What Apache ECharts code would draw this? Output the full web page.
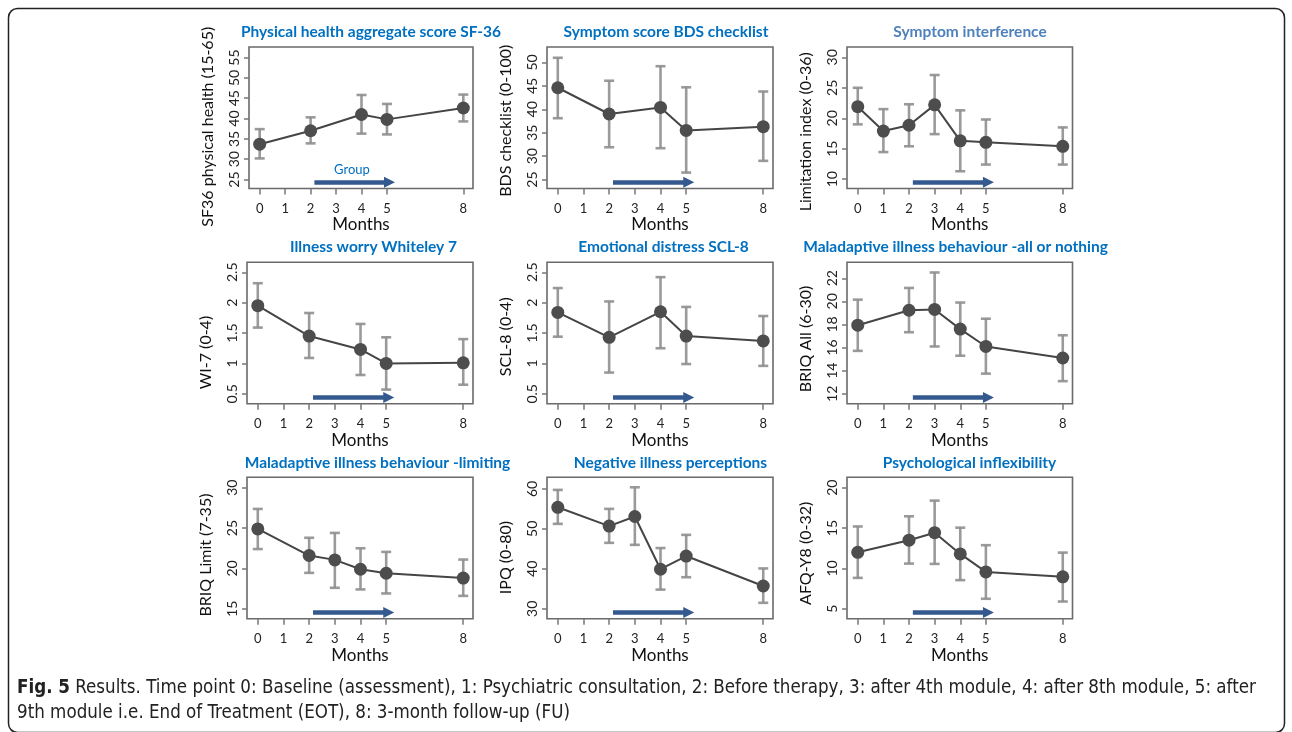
<!DOCTYPE html>
<html><head><meta charset="utf-8">
<script src="https://cdn.jsdelivr.net/npm/echarts@6/dist/echarts.min.js"></script>
<style>html,body{margin:0;padding:0;background:#fff}#c{width:1292px;height:732px}</style>
</head><body><div id="c"></div>
<script>
// ---- tick labels / categories ----
const monthTicks = [0, 1, 2, 3, 4, 5, 8];
const xName = 'Months';
const titles = [
  'Physical health aggregate score SF-36', 'Symptom score BDS checklist', 'Symptom interference',
  'Illness worry Whiteley 7', 'Emotional distress SCL-8', 'Maladaptive illness behaviour -all or nothing',
  'Maladaptive illness behaviour -limiting', 'Negative illness perceptions', 'Psychological inflexibility'
];
const yNames = [
  'SF36 physical health (15-65)', 'BDS checklist (0-100)', 'Limitation index (0-36)',
  'WI-7 (0-4)', 'SCL-8 (0-4)', 'BRIQ All (6-30)',
  'BRIQ Limit (7-35)', 'IPQ (0-80)', 'AFQ-Y8 (0-32)'
];
const yTicks1 = [25, 30, 35, 40, 45, 50, 55];
const yTicks2 = [25, 30, 35, 40, 45, 50];
const yTicks3 = [10, 15, 20, 25, 30];
const yTicks4 = [0.5, 1, 1.5, 2, 2.5];
const yTicks5 = [0.5, 1, 1.5, 2, 2.5];
const yTicks6 = [12, 14, 16, 18, 20, 22];
const yTicks7 = [15, 20, 25, 30];
const yTicks8 = [30, 40, 50, 60];
const yTicks9 = [5, 10, 15, 20];
const groupLabel = 'Group';
const arrowFrom = 2.15, arrowTo = 5.1;

// ---- series values: time points, mean, lower / upper error bar ----
const sf36T = [0, 2, 4, 5, 8];
const sf36Mean = [33.7, 37.0, 41.0, 39.8, 42.6];
const sf36Lo = [30.2, 33.9, 36.3, 36.1, 39.3];
const sf36Hi = [37.4, 40.3, 45.8, 43.6, 45.9];

const bdsT = [0, 2, 4, 5, 8];
const bdsMean = [44.6, 39.0, 40.4, 35.5, 36.3];
const bdsLo = [38.1, 31.9, 31.7, 26.5, 29.0];
const bdsHi = [51.0, 46.1, 49.2, 44.7, 43.8];

const limT = [0, 1, 2, 3, 4, 5, 8];
const limMean = [21.9, 17.9, 18.85, 22.2, 16.3, 16.05, 15.4];
const limLo = [19.0, 14.45, 15.4, 17.4, 11.3, 12.4, 12.4];
const limHi = [25.0, 21.5, 22.3, 27.1, 21.3, 19.8, 18.5];

const wiT = [0, 2, 4, 5, 8];
const wiMean = [1.95, 1.45, 1.23, 1.0, 1.01];
const wiLo = [1.59, 1.09, 0.81, 0.57, 0.65];
const wiHi = [2.32, 1.83, 1.65, 1.43, 1.40];

const sclT = [0, 2, 4, 5, 8];
const sclMean = [1.84, 1.43, 1.85, 1.45, 1.37];
const sclLo = [1.44, 0.85, 1.25, 0.99, 0.96];
const sclHi = [2.24, 2.02, 2.42, 1.93, 1.78];

const briqAllT = [0, 2, 3, 4, 5, 8];
const briqAllMean = [17.94, 19.23, 19.3, 17.6, 16.1, 15.1];
const briqAllLo = [15.72, 17.33, 16.1, 15.3, 13.75, 13.1];
const briqAllHi = [20.15, 21.16, 22.5, 19.9, 18.5, 17.07];

const briqLimT = [0, 2, 3, 4, 5, 8];
const briqLimMean = [24.9, 21.6, 21.06, 19.9, 19.4, 18.8];
const briqLimLo = [22.4, 19.45, 17.6, 17.4, 16.9, 16.6];
const briqLimHi = [27.37, 23.8, 24.4, 22.5, 22.05, 21.1];

const ipqT = [0, 2, 3, 4, 5, 8];
const ipqMean = [55.4, 50.7, 53.1, 39.9, 43.2, 35.7];
const ipqLo = [51.25, 46.5, 46.0, 34.8, 37.9, 31.5];
const ipqHi = [59.75, 55.0, 60.4, 45.2, 48.5, 40.1];

const afqT = [0, 2, 3, 4, 5, 8];
const afqMean = [12.0, 13.5, 14.43, 11.8, 9.57, 8.96];
const afqLo = [8.83, 10.6, 10.56, 8.55, 6.24, 5.9];
const afqHi = [15.2, 16.46, 18.4, 15.05, 12.88, 11.96];

const captionBold = 'Fig. 5';
const captionLine1 = ' Results. Time point 0: Baseline (assessment), 1: Psychiatric consultation, 2: Before therapy, 3: after 4th module, 4: after 8th module, 5: after';
const captionLine2 = '9th module i.e. End of Treatment (EOT), 8: 3-month follow-up (FU)';

// ---- assembly ----
const panels = [
  {t: sf36T, m: sf36Mean, lo: sf36Lo, hi: sf36Hi, ticks: yTicks1, ymin: 22.8, ymax: 57.6},
  {t: bdsT, m: bdsMean, lo: bdsLo, hi: bdsHi, ticks: yTicks2, ymin: 23.1, ymax: 53.3},
  {t: limT, m: limMean, lo: limLo, hi: limHi, ticks: yTicks3, ymin: 8.47, ymax: 31.7},
  {t: wiT, m: wiMean, lo: wiLo, hi: wiHi, ticks: yTicks4, ymin: 0.336, ymax: 2.664},
  {t: sclT, m: sclMean, lo: sclLo, hi: sclHi, ticks: yTicks5, ymin: 0.336, ymax: 2.664},
  {t: briqAllT, m: briqAllMean, lo: briqAllLo, hi: briqAllHi, ticks: yTicks6, ymin: 11.14, ymax: 23.38},
  {t: briqLimT, m: briqLimMean, lo: briqLimLo, hi: briqLimHi, ticks: yTicks7, ymin: 13.76, ymax: 31.29},
  {t: ipqT, m: ipqMean, lo: ipqLo, hi: ipqHi, ticks: yTicks8, ymin: 27.5, ymax: 62.9},
  {t: afqT, m: afqMean, lo: afqLo, hi: afqHi, ticks: yTicks9, ymin: 3.76, ymax: 21.29}
];
const gridLeft = [249, 547, 847, 247, 547, 847, 247, 547, 847];
const gridWidth = [224, 226, 225.5, 226, 226, 225.5, 226, 226, 225.5];
const rowTop = [47, 262.3, 477.3];
const gridH = 141.5;
const titleX = [366, 661, 965, 368.5, 658.5, 950.5, 372.5, 665.5, 964.5];
const titleY = [22, 237, 453];
const nameShift = [9, 3, 14, 19.5, 3.7, 6, 7, 9.5, 5.3];
const titleColors = ['#0070c0', '#0070c0', '#4f81bd', '#0070c0', '#0070c0', '#0070c0', '#0070c0', '#0070c0', '#0070c0'];
const FONT = 'Lato, "Open Sans", sans-serif';

const grid = [], xAxis = [], yAxis = [], series = [], title = [];
panels.forEach((p, i) => {
  const r = Math.floor(i / 3);
  grid.push({left: gridLeft[i], top: rowTop[r], width: gridWidth[i], height: gridH,
    show: true, borderColor: '#6a6a6a', borderWidth: 1.6, backgroundColor: 'transparent'});
  title.push({text: titles[i], left: titleX[i], top: titleY[r] - 3, textAlign: 'center',
    textStyle: {fontFamily: FONT, fontWeight: 'bold', fontSize: 15.5, color: titleColors[i]}});
  xAxis.push({type: 'value', gridIndex: i, min: -0.42, max: 8.38,
    name: xName, nameLocation: 'middle', nameGap: 28, nameMoveOverlap: false,
    nameTextStyle: {fontFamily: FONT, fontSize: 17, color: '#111'},
    axisLine: {show: false, onZero: false}, splitLine: {show: false},
    axisTick: {show: true, length: 6, customValues: monthTicks, lineStyle: {color: '#777', width: 1.5}},
    axisLabel: {customValues: monthTicks, margin: 14, fontFamily: FONT, fontSize: 13, color: '#222'}});
  yAxis.push({type: 'value', gridIndex: i, min: p.ymin, max: p.ymax,
    name: yNames[i], nameLocation: 'middle', nameGap: 33, nameMoveOverlap: false,
    nameTextStyle: {fontFamily: FONT, fontSize: 16, color: '#111', padding: [0, 2 * nameShift[i], 0, 0]},
    axisLine: {show: false, onZero: false}, splitLine: {show: false},
    axisTick: {show: true, length: 5, customValues: p.ticks, lineStyle: {color: '#777', width: 1.5}},
    axisLabel: {customValues: p.ticks, rotate: 90, margin: 8, fontFamily: FONT, fontSize: 14, color: '#222'}});
  series.push({
    type: 'custom', xAxisIndex: i, yAxisIndex: i, z: 2, silent: true,
    data: p.t.map((v, k) => [v, p.lo[k], p.hi[k]]),
    encode: {x: 0, y: [1, 2]},
    renderItem(params, api) {
      const a = api.coord([api.value(0), api.value(1)]);
      const b = api.coord([api.value(0), api.value(2)]);
      const w = 5;
      const style = {stroke: '#8f8f8f', lineWidth: 2.6, opacity: 0.9};
      return {type: 'group', children: [
        {type: 'line', shape: {x1: a[0], y1: a[1], x2: b[0], y2: b[1]}, style},
        {type: 'line', shape: {x1: a[0] - w, y1: a[1], x2: a[0] + w, y2: a[1]}, style},
        {type: 'line', shape: {x1: b[0] - w, y1: b[1], x2: b[0] + w, y2: b[1]}, style}
      ]};
    }
  });
  const ya = p.ymin + 6.3 * (p.ymax - p.ymin) / gridH;
  series.push({
    type: 'line', xAxisIndex: i, yAxisIndex: i, z: 3,
    data: p.t.map((v, k) => [v, p.m[k]]),
    symbol: 'circle', symbolSize: 13, showSymbol: true,
    itemStyle: {color: '#4d4d4d'},
    lineStyle: {color: '#454545', width: 2},
    markLine: {silent: true, animation: false, symbol: ['none', 'triangle'], symbolSize: [11, 11],
      lineStyle: {color: '#34598f', width: 4.5, type: 'solid'},
      label: {show: i === 0, formatter: groupLabel, position: 'middle', distance: 6,
        fontFamily: FONT, fontSize: 13, color: '#0070c0'},
      emphasis: {disabled: true},
      data: [[{coord: [arrowFrom, ya]}, {coord: [arrowTo, ya]}]]}
  });
});

const CAPFONT = '"Liberation Sans Narrow", "DejaVu Sans Condensed", Lato, sans-serif';
const chart = echarts.init(document.getElementById('c'), null, {renderer: 'canvas'});
chart.setOption({
  animation: false,
  backgroundColor: '#fff',
  title, grid, xAxis, yAxis, series,
  graphic: [
    {type: 'rect', silent: true, shape: {x: 8.5, y: 8.5, width: 1276, height: 724, r: 9},
      style: {fill: 'none', stroke: '#222', lineWidth: 1.5}},
    {type: 'text', silent: true, left: 17, top: 676,
      style: {text: '{b|' + captionBold + '}' + captionLine1 + '\n' + captionLine2,
        fontFamily: CAPFONT, fontSize: 18.6, lineHeight: 25, fill: '#222',
        rich: {b: {fontWeight: 'bold', fontFamily: CAPFONT, fontSize: 18.6, lineHeight: 25, fill: '#222'}}}}
  ]
});
</script></body></html>
